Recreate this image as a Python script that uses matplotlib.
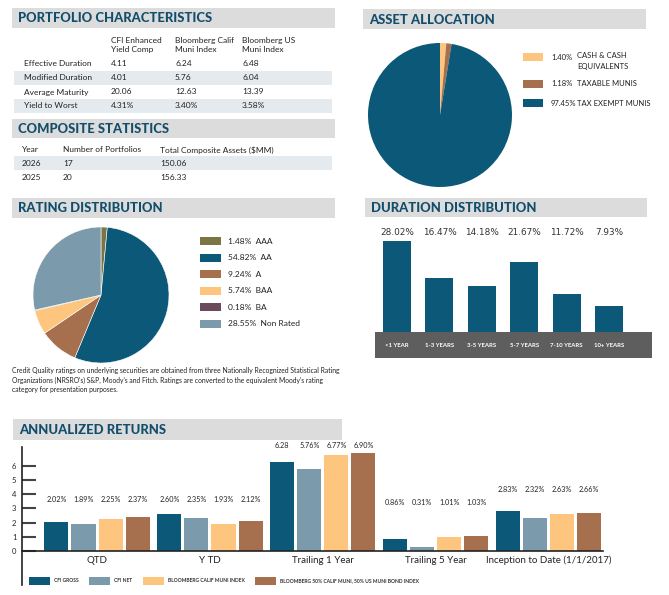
import numpy as np
import matplotlib.pyplot as plt
from matplotlib.patches import Rectangle

plt.rcParams['font.family'] = ['Lato', 'DejaVu Sans']

W, H = 669, 595

# ---- data
char_cols = ["CFI Enhanced\nYield Comp", "Bloomberg Calif\nMuni Index", "Bloomberg US\nMuni Index"]
char_rows = ["Effective Duration", "Modified Duration", "Average Maturity", "Yield to Worst"]
char_comp = ["4.11", "4.01", "20.06", "4.31%"]
char_calif = ["6.24", "5.76", "12.63", "3.40%"]
char_us = ["6.48", "6.04", "13.39", "3.58%"]

comp_cols = ["Year", "Number of Portfolios", "Total Composite Assets ($MM)"]
comp_years = ["2026", "2025"]
comp_ports = ["17", "20"]
comp_assets = ["150.06", "156.33"]

alloc_labels = ["CASH & CASH\nEQUIVALENTS", "TAXABLE MUNIS", "TAX EXEMPT MUNIS"]
alloc_vals = [1.40, 1.18, 97.45]

rating_labels = ["AAA", "AA", "A", "BAA", "BA", "Non Rated"]
rating_vals = [1.48, 54.82, 9.24, 5.74, 0.18, 28.55]

dur_labels = ["<1 YEAR", "1-3 YEARS", "3-5 YEARS", "5-7 YEARS", "7-10 YEARS", "10+ YEARS"]
dur_vals = [28.02, 16.47, 14.18, 21.67, 11.72, 7.93]

ret_periods = ["QTD", "Y TD", "Trailing 1 Year", "Trailing 5 Year", "Inception to Date (1/1/2017)"]
ret_series = ["CFI GROSS", "CFI NET", "BLOOMBERG CALIF MUNI INDEX",
              "BLOOMBERG 50% CALIF MUNI, 50% US MUNI BOND INDEX"]
cfi_gross = [2.02, 2.60, 6.28, 0.86, 2.83]
cfi_net = [1.89, 2.35, 5.76, 0.31, 2.32]
calif_idx = [2.25, 1.93, 6.77, 1.01, 2.63]
blend_idx = [2.37, 2.12, 6.90, 1.03, 2.66]
gross_lbl = ["2.02%", "2.60%", "6.28", "0.86%", "2.83%"]
net_lbl = ["1.89%", "2.35%", "5.76%", "0.31%", "2.32%"]
calif_lbl = ["2.25%", "1.93%", "6.77%", "1.01%", "2.63%"]
blend_lbl = ["2.37%", "2.12%", "6.90%", "1.03%", "2.66%"]

# ---- colours
navy = "#0b5878"
slate = "#7b9aab"
sand = "#fdc57e"
brown = "#a66f4d"
olive = "#7b7443"
plum = "#6b4a5b"
title_c = "#124e6c"
band_c = "#dcdcdc"
shade_c = "#e4eaee"
txt_c = "#222222"

fig = plt.figure(figsize=(W / 100, H / 100), dpi=100)


def axes_px(x0, y0, x1, y1):
    return fig.add_axes([x0 / W, 1 - y1 / H, (x1 - x0) / W, (y1 - y0) / H])


def rect(x0, y0, x1, y1, color):
    fig.patches.append(Rectangle((x0 / W, 1 - y1 / H), (x1 - x0) / W, (y1 - y0) / H,
                                 transform=fig.transFigure, color=color, zorder=0, lw=0))


def txt(x, y, s, **kw):
    kw.setdefault('color', txt_c)
    kw.setdefault('va', 'center')
    fig.text(x / W, 1 - y / H, s, **kw)


def header(x0, y0, x1, y1, title):
    rect(x0, y0, x1, y1, band_c)
    txt(x0 + 6, (y0 + y1) / 2 + 0.5, title, fontsize=9.4, weight='black', color=title_c)


# ---- portfolio characteristics
header(12, 8, 335, 28, "PORTFOLIO CHARACTERISTICS")
col_x = [111, 175, 242]
for cx, c in zip(col_x, char_cols):
    txt(cx, 45, c, fontsize=6, linespacing=1.35)
row_y = [64, 78, 92, 106]
for i, (ry, name) in enumerate(zip(row_y, char_rows)):
    if i % 2 == 1:
        rect(14, ry - 7, 332, ry + 7, shade_c)
    txt(24, ry, name, fontsize=6)
    for cx, v in zip(col_x, [char_comp[i], char_calif[i], char_us[i]]):
        txt(cx, ry, v, fontsize=6)

# ---- composite statistics
header(12, 119, 335, 138, "COMPOSITE STATISTICS")
comp_x = [22, 63, 160]
for cx, c in zip(comp_x, comp_cols):
    txt(cx, 150, c, fontsize=6)
for i, ry in enumerate([163, 177]):
    if i == 0:
        rect(14, ry - 7, 332, ry + 7, shade_c)
    for cx, v in zip(comp_x, [comp_years[i], comp_ports[i], comp_assets[i]]):
        txt(cx, ry, v, fontsize=6)

# ---- asset allocation
header(363, 9, 646, 29, "ASSET ALLOCATION")
ax = axes_px(368, 43, 512, 187)
ax.pie(alloc_vals, colors=[sand, brown, navy], startangle=90, counterclock=False,
       wedgeprops=dict(linewidth=0))
ax.set_xlim(-1, 1)
ax.set_ylim(-1, 1)
ax.set_aspect('equal')
for ly, v, lab, col in zip([57, 84, 103], alloc_vals, alloc_labels, [sand, brown, navy]):
    rect(523, ly - 4, 543, ly + 4, col)
    txt(551, ly, f"{v:.2f}%", fontsize=5.5)
    if '\n' in lab:
        txt(577, ly - 4.5, lab, fontsize=5.5, va='top', linespacing=1.5)
    else:
        txt(577, ly, lab, fontsize=5.5)

# ---- rating distribution
header(12, 198, 335, 218, "RATING DISTRIBUTION")
ax = axes_px(33, 227, 169, 363)
rating_cols = [olive, navy, brown, sand, plum, slate]
ax.pie(rating_vals, colors=rating_cols, startangle=90, counterclock=False,
       wedgeprops=dict(linewidth=0.4, edgecolor='white'))
ax.set_xlim(-1, 1)
ax.set_ylim(-1, 1)
ax.set_aspect('equal')
for i, (v, lab, col) in enumerate(zip(rating_vals, rating_labels, rating_cols)):
    ly = 241 + i * 16.6
    rect(200, ly - 4, 221, ly + 4, col)
    txt(228, ly, f"{v:.2f}%  {lab}", fontsize=6.0)
txt(12, 380,
    "Credit Quality ratings on underlying securities are obtained from three Nationally Recognized Statistical Rating\n"
    "Organizations (NRSRO's) S&P, Moody's and Fitch. Ratings are converted to the equivalent Moody's rating\n"
    "category for presentation purposes.", fontsize=4.85, linespacing=1.4)

# ---- duration distribution
header(365, 198, 647, 217, "DURATION DISTRIBUTION")
ax = axes_px(375, 225, 652, 358)
xd = np.arange(len(dur_vals))
ax.bar(xd, dur_vals, width=0.66, color=navy, zorder=2)
ax.axhspan(-8, 0, color="#5e5e5e", zorder=1, lw=0)
for i, (v, lab) in enumerate(zip(dur_vals, dur_labels)):
    ax.text(i, 30.6, f"{v:.2f}%", ha='center', va='center', fontsize=6.4, color="#333333",
            family=['DejaVu Sans'])
    ax.text(i, -4.2, lab, ha='center', va='center', fontsize=4.3, color='white', weight='bold')
ax.set_xlim(-0.52, 6.01)
ax.set_ylim(-8, 32.9)
ax.axis('off')

# ---- annualized returns
header(13, 419, 342, 440, "ANNUALIZED RETURNS")
ax = axes_px(22, 447, 605, 585)
xg = np.arange(len(ret_periods))
step = 0.24
series_vals = [cfi_gross, cfi_net, calif_idx, blend_idx]
series_lbl = [gross_lbl, net_lbl, calif_lbl, blend_lbl]
series_col = [navy, slate, sand, brown]
label_y = [3.6, 3.6, 7.46, 3.45, 4.3]
for k, (vals, lbls, col) in enumerate(zip(series_vals, series_lbl, series_col)):
    xs = xg + (k - 1.5) * step
    ax.bar(xs, vals, width=0.213, color=col, zorder=2)
    for x, lb, ly in zip(xs, lbls, label_y):
        ax.text(x, ly, lb, ha='center', va='center', fontsize=5.2, color=txt_c)
for x, p in zip(xg, ret_periods):
    ax.text(x, -0.65, p, ha='center', va='center', fontsize=7, color=txt_c)
ax.plot([-0.665, 4.48], [0, 0], color='#222222', lw=1.2, zorder=3, clip_on=False)
ax.set_xlim(-0.665, 4.5)
ax.set_ylim(-2.39, 7.32)
for s in ['top', 'right', 'bottom']:
    ax.spines[s].set_visible(False)
ax.spines['left'].set_color('#222222')
ax.spines['left'].set_linewidth(1.2)
ax.set_yticks(range(7))
ax.tick_params(axis='y', direction='in', length=10, width=1.5, color='#444444',
               labelsize=5.5, pad=4, labelcolor=txt_c)
ax.set_xticks([])
ax.patch.set_alpha(0)

# legend for returns
leg_x = [29, 89, 143, 255]
for lx, name, col in zip(leg_x, ret_series, series_col):
    rect(lx, 577, lx + 21, 585, col)
    txt(lx + 25, 581, name, fontsize=3.6, weight='bold', color='#333333')

fig.savefig("out.png", dpi=100, facecolor='white')
